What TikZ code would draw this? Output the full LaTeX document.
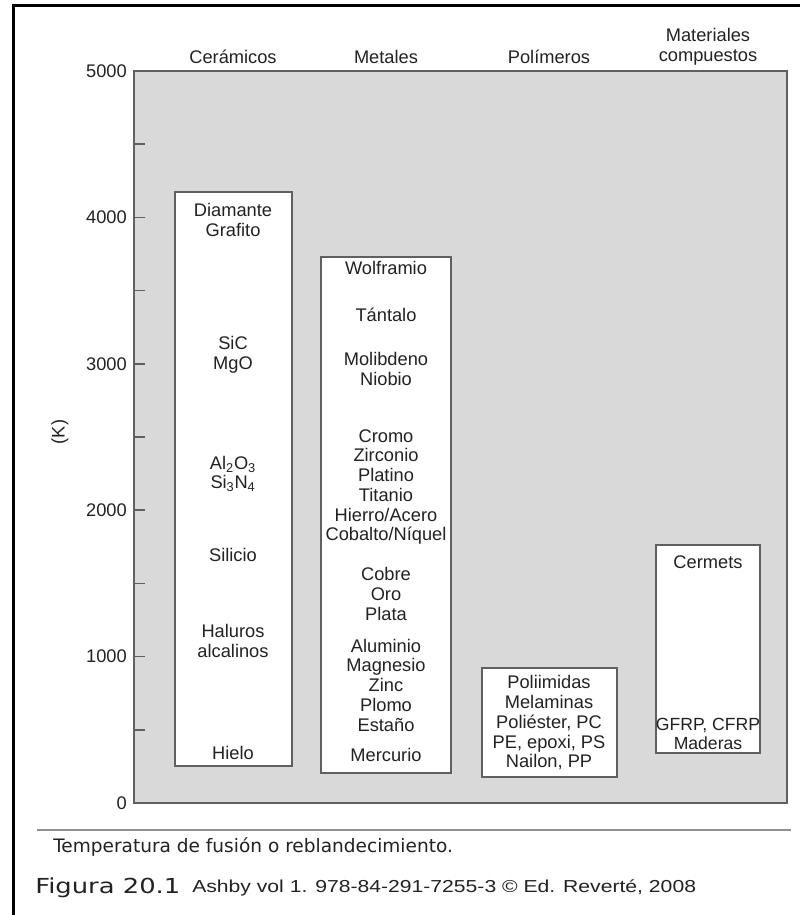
\documentclass[tikz,border=0pt]{standalone}
\usepackage{fontspec}
\usepackage{graphicx}
\setmainfont{Liberation Sans}
\newfontfamily\capfont{DejaVu Sans}
\usetikzlibrary{positioning}
\definecolor{plotgray}{HTML}{D9D9D9}
\definecolor{linegray}{HTML}{606060}
\definecolor{inkgray}{HTML}{222222}
\tikzset{
  x=0.75pt, y=-0.75pt,
  chart_txt/.style = {align=center, inner sep=0pt, text=inkgray, font=\fontsize{13.7}{14.8}\selectfont},
  cat_lbl/.style = {chart_txt},
  tick_lbl/.style = {chart_txt, anchor=east},
  foot_txt/.style = {anchor=west, inner sep=0pt, text=inkgray},
  mat_box/.style = {draw=linegray, fill=white, line width=1.1pt},
  plot_area/.style = {draw=linegray, fill=plotgray, line width=1.1pt}
}

\begin{document}
\begin{tikzpicture}
\useasboundingbox (0,0) rectangle (800,915);
% frame
\draw[line width=2.3pt] (13.5,915) -- (13.5,5.5) -- (800,5.5);

% plot area and axis
\draw[plot_area] (134,71) rectangle (787,803);
\draw[linegray, line width=1.1pt]
  (134,144.2) -- +(11,0) (134,217.4) -- +(11,0) (134,290.6) -- +(11,0)
  (134,363.8) -- +(11,0) (134,437) -- +(11,0) (134,510.2) -- +(11,0)
  (134,583.4) -- +(11,0) (134,656.6) -- +(11,0) (134,729.8) -- +(11,0);
\node[tick_lbl] (t5) at (127,71) {5000};
\node[tick_lbl] (t4) at (127,217.4) {4000};
\node[tick_lbl] (t3) at (127,363.8) {3000};
\node[tick_lbl] (t2) at (127,510.2) {2000};
\node[tick_lbl] (t1) at (127,656.6) {1000};
\node[tick_lbl] (t0) at (127,803) {0};
\node[chart_txt, rotate=90] (unit) at (60,432) {(K)};

% categories
\node[cat_lbl] (cer) at (233,57) {Cerámicos};
\node[cat_lbl] (met) at (386,57) {Metales};
\node[cat_lbl] (pol) at (549,57) {Polímeros};
\node[cat_lbl] (comp) at (708,47) {Materiales\\compuestos};

% ceramicos
\draw[mat_box] (175,192) rectangle (292,766);
\node[chart_txt] (diam) at (233,220) {Diamante\\Grafito};
\node[chart_txt] (sic) at (233,355) {SiC\\MgO};
\node[chart_txt] (alo) at (233,474) {Al\textsubscript{2}O\textsubscript{3}\\Si\textsubscript{3}N\textsubscript{4}};
\node[chart_txt] (sili) at (233,555) {Silicio};
\node[chart_txt] (halu) at (233,641) {Haluros\\alcalinos};
\node[chart_txt] (hielo) at (233,753) {Hielo};

% metales
\draw[mat_box] (321,257) rectangle (451,773);
\node[chart_txt] (wolf) at (386,268) {Wolframio};
\node[chart_txt] (tant) at (386,315) {Tántalo};
\node[chart_txt] (moli) at (386,369) {Molibdeno\\Niobio};
\node[chart_txt] (crom) at (386,487) {Cromo\\Zirconio\\Platino\\Titanio\\Hierro/Acero\\Cobalto/Níquel};
\node[chart_txt] (cobre) at (386,594) {Cobre\\Oro\\Plata};
\node[chart_txt] (alum) at (386,685) {Aluminio\\Magnesio\\Zinc\\Plomo\\Estaño};
\node[chart_txt] (merc) at (386,755) {Mercurio};

% polimeros
\draw[mat_box] (482,668) rectangle (617,777);
\node[chart_txt] (poli) at (549,723) {Poliimidas\\Melaminas\\Poliéster, PC\\PE, epoxi, PS\\Nailon, PP};

% compuestos
\draw[mat_box] (656,545) rectangle (760,753);
\node[chart_txt] (cerm) at (708,562) {Cermets};
\node[chart_txt, font=\fontsize{13.2}{14.4}\selectfont] (gfrp) at (708,734) {GFRP, CFRP\\Maderas};

% caption
\draw[linegray!70, line width=1.5pt] (37,830) -- (791,830);
\node[foot_txt, font=\capfont\fontsize{13.9}{15}\selectfont] (capt) at (53,847) {Temperatura de fusión o reblandecimiento.};
\node[foot_txt, font=\capfont\fontsize{15.5}{17}\selectfont] (fig) at (35,888) {\scalebox{1.25}[1]{Figura 20.1}};
\node[foot_txt, font=\fontsize{13}{15}\selectfont] (src) at (192,888) {\scalebox{1.22}[1]{Ashby vol 1. 978-84-291-7255-3 © Ed. Reverté, 2008}};
\end{tikzpicture}
\end{document}
